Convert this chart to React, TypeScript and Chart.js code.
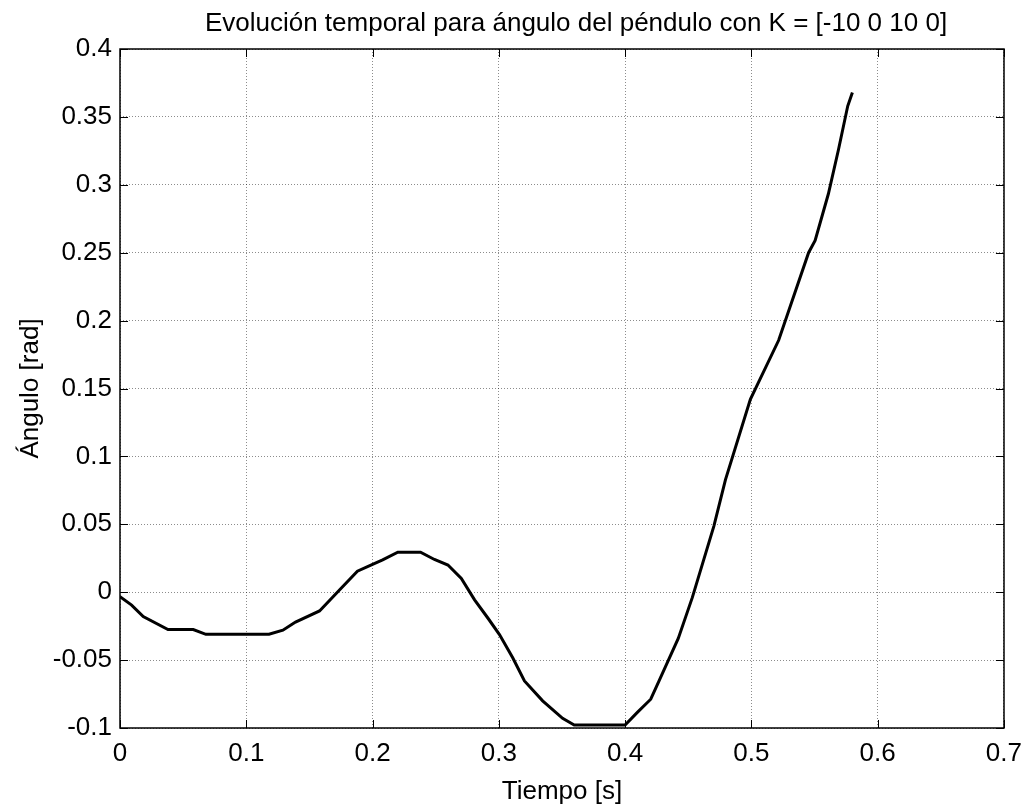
import React, { useEffect, useRef } from "react";
import { Chart, registerables } from "chart.js";

Chart.register(...registerables);

const timeValues = [0, 0.0092, 0.0184, 0.038, 0.058, 0.068, 0.118, 0.129, 0.139, 0.158, 0.174, 0.188, 0.2, 0.208, 0.22, 0.238, 0.249, 0.2597, 0.2703, 0.2808, 0.2913, 0.3005, 0.311, 0.3203, 0.3347, 0.3505, 0.3597, 0.4, 0.4097, 0.4203, 0.4268, 0.4421, 0.4532, 0.4703, 0.4795, 0.4992, 0.5216, 0.5453, 0.5505, 0.561, 0.569, 0.5763, 0.58];
const angleValues = [-0.0033, -0.0095, -0.018, -0.0275, -0.0275, -0.031, -0.031, -0.028, -0.022, -0.0138, 0.0018, 0.0155, 0.0205, 0.0238, 0.0295, 0.0295, 0.0241, 0.02, 0.0102, -0.0056, -0.019, -0.0312, -0.0483, -0.0654, -0.08, -0.0929, -0.0978, -0.0978, -0.0885, -0.0788, -0.0654, -0.034, -0.004, 0.0487, 0.0829, 0.142, 0.1855, 0.25, 0.259, 0.2934, 0.326, 0.358, 0.368];

const xTickValues = [0, 0.1, 0.2, 0.3, 0.4, 0.5, 0.6, 0.7];
const xTickLabels = ["0", "0.1", "0.2", "0.3", "0.4", "0.5", "0.6", "0.7"];
const yTickValues = [-0.1, -0.05, 0, 0.05, 0.1, 0.15, 0.2, 0.25, 0.3, 0.35, 0.4];
const yTickLabels = ["-0.1", "-0.05", "0", "0.05", "0.1", "0.15", "0.2", "0.25", "0.3", "0.35", "0.4"];

const titleText = "Evolución temporal para ángulo del péndulo con K = [-10 0 10 0]";
const xTitle = "Tiempo [s]";
const yTitle = "Ángulo [rad]";

const FONT = "'Liberation Sans', Arial, sans-serif";
const FS = 26;

const boxPlugin = {
  id: "matlabBox",
  afterDraw(chart: any) {
    const { ctx, chartArea } = chart;
    const { left, right, top, bottom } = chartArea;
    const xs = chart.scales.x;
    const ys = chart.scales.y;
    const tl = 8;
    ctx.save();
    ctx.strokeStyle = "#000";
    ctx.lineWidth = 1;
    ctx.beginPath();
    xTickValues.forEach((v) => {
      const px = Math.round(xs.getPixelForValue(v)) + 0.5;
      ctx.moveTo(px, bottom);
      ctx.lineTo(px, bottom - tl);
      ctx.moveTo(px, top);
      ctx.lineTo(px, top + tl);
    });
    yTickValues.forEach((v) => {
      const py = Math.round(ys.getPixelForValue(v)) + 0.5;
      ctx.moveTo(left, py);
      ctx.lineTo(left + tl, py);
      ctx.moveTo(right, py);
      ctx.lineTo(right - tl, py);
    });
    ctx.stroke();
    ctx.lineWidth = 1.5;
    ctx.strokeRect(Math.round(left), Math.round(top), Math.round(right - left), Math.round(bottom - top));
    // title, centred like the reference
    ctx.fillStyle = "#000";
    ctx.font = `${FS}px ${FONT}`;
    ctx.textAlign = "center";
    ctx.textBaseline = "middle";
    ctx.fillText(titleText, 576, 24);
    ctx.restore();
  },
};

export default function App() {
  const ref = useRef<HTMLCanvasElement | null>(null);
  useEffect(() => {
    document.body.style.margin = "0";
    const canvas = ref.current;
    if (!canvas) return;
    const points = timeValues.map((t, i) => ({ x: t, y: angleValues[i] }));
    const chart = new Chart(canvas, {
      type: "scatter",
      data: {
        datasets: [
          {
            data: points,
            showLine: true,
            borderColor: "#000",
            borderWidth: 3,
            pointRadius: 0,
            tension: 0,
            fill: false,
          },
        ],
      },
      options: {
        animation: false,
        responsive: false,
        layout: { padding: { left: 0, right: 26, top: 49, bottom: 0 } },
        plugins: {
          legend: { display: false },
          tooltip: { enabled: false },
          title: { display: false },
        },
        scales: {
          x: {
            type: "linear",
            min: 0,
            max: 0.7,
            afterBuildTicks(scale: any) {
              scale.ticks = xTickValues.map((v) => ({ value: v }));
            },
            afterFit(scale: any) {
              scale.height = 79;
            },
            ticks: {
              color: "#000",
              font: { family: FONT, size: FS },
              padding: 10,
              maxRotation: 0,
              autoSkip: false,
              callback: (v: any) => {
                const i = xTickValues.findIndex((t) => Math.abs(t - Number(v)) < 1e-9);
                return i >= 0 ? xTickLabels[i] : "";
              },
            },
            grid: {
              color: "rgba(0,0,0,0.45)",
              lineWidth: 1,
              drawTicks: false,
              tickLength: 0,
            },
            border: { display: false, dash: [1, 2] },
            title: {
              display: true,
              text: xTitle,
              color: "#000",
              font: { family: FONT, size: FS },
              padding: { top: 0, bottom: 0 },
            },
          },
          y: {
            type: "linear",
            min: -0.1,
            max: 0.4,
            afterBuildTicks(scale: any) {
              scale.ticks = yTickValues.map((v) => ({ value: v }));
            },
            afterFit(scale: any) {
              scale.width = 120;
            },
            ticks: {
              color: "#000",
              font: { family: FONT, size: FS },
              padding: 8,
              autoSkip: false,
              callback: (v: any) => {
                const i = yTickValues.findIndex((t) => Math.abs(t - Number(v)) < 1e-9);
                return i >= 0 ? yTickLabels[i] : "";
              },
            },
            grid: {
              color: "rgba(0,0,0,0.45)",
              lineWidth: 1,
              drawTicks: false,
              tickLength: 0,
            },
            border: { display: false, dash: [1, 2] },
            title: {
              display: true,
              text: yTitle,
              color: "#000",
              font: { family: FONT, size: FS },
              padding: { top: 15, bottom: 0 },
            },
          },
        },
      } as any,
      plugins: [boxPlugin],
    });
    return () => chart.destroy();
  }, []);
  return (
    <div style={{ width: 1032, height: 807 }}>
      <canvas ref={ref} width={1032} height={807} style={{ display: "block" }} />
    </div>
  );
}
